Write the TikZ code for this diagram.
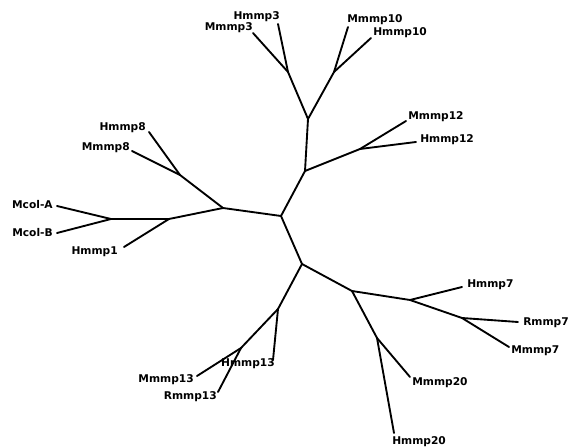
\documentclass[tikz,border=0pt]{standalone}
\usepackage{fontspec}
\setmainfont{DejaVu Sans}
\begin{document}
\begin{tikzpicture}[x=0.75pt,y=-0.75pt,
  br/.style={line width=1.4pt,line cap=round,line join=round},
  lbl/.style={inner sep=0pt,font=\fontsize{8}{9}\selectfont\bfseries}]
\useasboundingbox (0,0) rectangle (574,448);
% internal vertices
\coordinate (hub) at (281,216);
\coordinate (L1) at (223,208);
\coordinate (L8) at (180,175);
\coordinate (L1b) at (169,219);
\coordinate (Lcol) at (111,219);
\coordinate (U1) at (305,171);
\coordinate (U2) at (308,119);
\coordinate (U12) at (360,149);
\coordinate (U3) at (288,72);
\coordinate (U10) at (334,72);
\coordinate (D1) at (302,264);
\coordinate (D13) at (278,309);
\coordinate (D13b) at (241,348);
\coordinate (D2) at (352,291);
\coordinate (D7) at (410,300);
\coordinate (D7b) at (462,318);
\coordinate (D20) at (377,338);
% leaves
\coordinate (lHmmp8) at (149,132);
\coordinate (lMmmp8) at (132,151);
\coordinate (lHmmp1) at (124,247);
\coordinate (lMcolA) at (57,206);
\coordinate (lMcolB) at (57,233);
\coordinate (lMmmp3) at (253,33);
\coordinate (lHmmp3) at (278,24);
\coordinate (lMmmp10) at (348,27);
\coordinate (lHmmp10) at (371,38);
\coordinate (lMmmp12) at (406,121);
\coordinate (lHmmp12) at (416,142);
\coordinate (lHmmp13) at (273,360);
\coordinate (lMmmp13) at (197,376);
\coordinate (lRmmp13) at (218,392);
\coordinate (lHmmp7) at (462,287);
\coordinate (lRmmp7) at (518,322);
\coordinate (lMmmp7) at (509,347);
\coordinate (lMmmp20) at (410,377);
\coordinate (lHmmp20) at (394,433);
% labels
\node[lbl,anchor=east] (tHmmp8) at (146,128) {Hmmp8};
\node[lbl,anchor=east] (tMmmp8) at (130,148) {Mmmp8};
\node[lbl,anchor=east] (tMcolA) at (53,205) {Mcol-A};
\node[lbl,anchor=east] (tMcolB) at (53,233) {Mcol-B};
\node[lbl,anchor=east] (tHmmp1) at (118,252) {Hmmp1};
\node[lbl,anchor=east] (tHmmp3) at (280,17) {Hmmp3};
\node[lbl,anchor=east] (tMmmp3) at (253,28) {Mmmp3};
\node[lbl,anchor=west] (tMmmp10) at (347,20) {Mmmp10};
\node[lbl,anchor=west] (tHmmp10) at (373,33) {Hmmp10};
\node[lbl,anchor=west] (tMmmp12) at (408,117) {Mmmp12};
\node[lbl,anchor=west] (tHmmp12) at (420,140) {Hmmp12};
\node[lbl,anchor=east] (tHmmp13) at (275,364) {Hmmp13};
\node[lbl,anchor=east] (tMmmp13) at (194,380) {Mmmp13};
\node[lbl,anchor=east] (tRmmp13) at (217,397) {Rmmp13};
\node[lbl,anchor=west] (tHmmp7) at (467,285) {Hmmp7};
\node[lbl,anchor=west] (tRmmp7) at (523,323) {Rmmp7};
\node[lbl,anchor=west] (tMmmp7) at (511,351) {Mmmp7};
\node[lbl,anchor=west] (tMmmp20) at (412,383) {Mmmp20};
\node[lbl,anchor=west] (tHmmp20) at (392,442) {Hmmp20};
% branches
\draw[br] (hub) -- (L1);
\draw[br] (L1) -- (L8);
\draw[br] (L8) -- (lHmmp8);
\draw[br] (L8) -- (lMmmp8);
\draw[br] (L1) -- (L1b);
\draw[br] (L1b) -- (lHmmp1);
\draw[br] (L1b) -- (Lcol);
\draw[br] (Lcol) -- (lMcolA);
\draw[br] (Lcol) -- (lMcolB);
\draw[br] (hub) -- (U1);
\draw[br] (U1) -- (U2);
\draw[br] (U1) -- (U12);
\draw[br] (U12) -- (lMmmp12);
\draw[br] (U12) -- (lHmmp12);
\draw[br] (U2) -- (U3);
\draw[br] (U2) -- (U10);
\draw[br] (U3) -- (lMmmp3);
\draw[br] (U3) -- (lHmmp3);
\draw[br] (U10) -- (lMmmp10);
\draw[br] (U10) -- (lHmmp10);
\draw[br] (hub) -- (D1);
\draw[br] (D1) -- (D13);
\draw[br] (D13) -- (lHmmp13);
\draw[br] (D13) -- (D13b);
\draw[br] (D13b) -- (lMmmp13);
\draw[br] (D13b) -- (lRmmp13);
\draw[br] (D1) -- (D2);
\draw[br] (D2) -- (D7);
\draw[br] (D7) -- (lHmmp7);
\draw[br] (D7) -- (D7b);
\draw[br] (D7b) -- (lRmmp7);
\draw[br] (D7b) -- (lMmmp7);
\draw[br] (D2) -- (D20);
\draw[br] (D20) -- (lMmmp20);
\draw[br] (D20) -- (lHmmp20);
\end{tikzpicture}
\end{document}
